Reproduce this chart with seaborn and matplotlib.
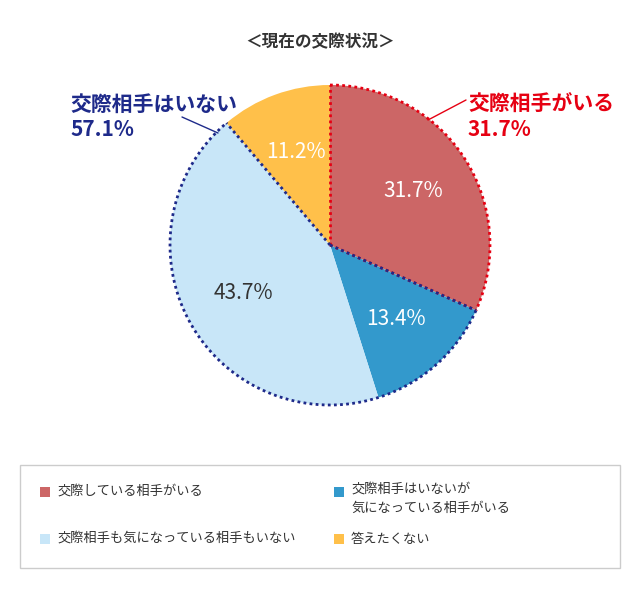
import matplotlib
matplotlib.use("Agg")
import matplotlib.pyplot as plt
from matplotlib.patches import Rectangle
import numpy as np
import seaborn as sns

sns.set_theme(style="white", font="Noto Sans CJK JP")

TITLE = "＜現在の交際状況＞"
labels = ["交際している相手がいる", "交際相手はいないが\n気になっている相手がいる",
          "交際相手も気になっている相手もいない", "答えたくない"]
values = [31.7, 13.4, 43.7, 11.2]
colors = ["#CC6666", "#3399CC", "#C8E6F8", "#FFC04A"]
text_colors = ["white", "white", "#333333", "white"]
group_labels = ["交際相手がいる\n31.7%", "交際相手はいない\n57.1%"]
group_colors = ["#E60012", "#1E2A8A"]

W, H = 640, 604
fig = plt.figure(figsize=(6.4, 6.04), dpi=100)
ax = fig.add_axes([0, 0, 1, 1])
ax.set_xlim(0, W)
ax.set_ylim(0, H)
ax.set_aspect("equal")
ax.axis("off")

cx, cy, r = 330, H - 245, 160
ax.pie(values, colors=colors, startangle=90, counterclock=False,
       center=(cx, cy), radius=r, wedgeprops=dict(linewidth=0),
       autopct="%.1f%%", pctdistance=0.62,
       textprops=dict(fontsize=15, color="white"))
for t, c in zip([t for t in ax.texts if t.get_text().endswith("%")], text_colors):
    t.set_color(c)
ax.set_xlim(0, W)
ax.set_ylim(0, H)

# dotted outlines
bounds = np.concatenate([[0], np.cumsum(values)]) / 100.0
ang = lambda f: np.deg2rad(90 - 360 * f)

def arc(f0, f1, color):
    th = np.linspace(ang(f0), ang(f1), 200)
    ax.plot(cx + r * np.cos(th), cy + r * np.sin(th), ls=(0, (1, 1.2)), lw=2, color=color)

def radial(f, color):
    a = ang(f)
    ax.plot([cx, cx + r * np.cos(a)], [cy, cy + r * np.sin(a)], ls=(0, (1, 1.2)), lw=2, color=color)

arc(bounds[0], bounds[1], group_colors[0])
radial(bounds[0], group_colors[0])
radial(bounds[1], group_colors[0])
arc(bounds[1], bounds[3], group_colors[1])
radial(bounds[1], group_colors[1])
radial(bounds[3], group_colors[1])

# group annotations
ax.text(468, H - 117, group_labels[0], color=group_colors[0], fontsize=15,
        fontweight="bold", ha="left", va="center", linespacing=1.2)
ax.plot([428, 466], [H - 120, H - 100], color=group_colors[0], lw=1)
ax.text(70, H - 117, group_labels[1], color=group_colors[1], fontsize=15,
        fontweight="bold", ha="left", va="center", linespacing=1.2)
ax.plot([182, 218], [H - 117, H - 133], color=group_colors[1], lw=1)

ax.text(W / 2, H - 42, TITLE, fontsize=12, fontweight="bold", color="#333333",
        ha="center", va="center")

# legend box
ax.add_patch(Rectangle((20, H - 568), 600, 103, fill=False, ec="#CCCCCC", lw=1))
pos = [(40, H - 492), (334, H - 492), (40, H - 539), (334, H - 539)]
for (x, y), lab, c in zip(pos, labels, colors):
    ax.add_patch(Rectangle((x, y - 5), 10, 10, color=c, lw=0))
    ax.text(x + 17, y, lab, fontsize=9.5, color="#333333", ha="left",
            va="top" if "\n" in lab else "center", linespacing=1.5,
            transform=ax.transData) if "\n" in lab else \
        ax.text(x + 17, y, lab, fontsize=9.5, color="#333333", ha="left", va="center")
for t in ax.texts:
    if t.get_text().startswith("交際相手はいないが"):
        t.set_y(H - 484)

fig.savefig("out.png", dpi=100)
